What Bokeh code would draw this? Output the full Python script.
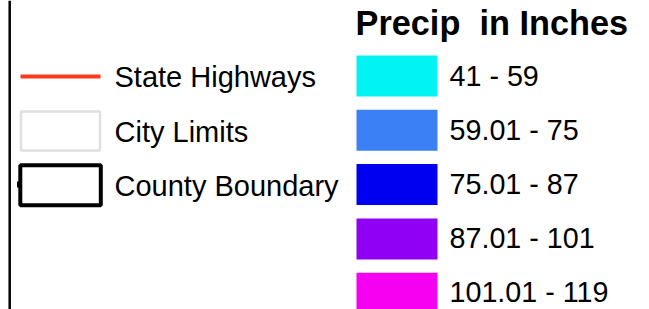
from bokeh.plotting import figure
from bokeh.models import Range1d
from bokeh.core.properties import value
from bokeh.embed import file_html
from bokeh.resources import INLINE

# ---- data ----
line_labels = ["State Highways", "City Limits", "County Boundary"]
line_colors = ["#FF3A1C", "#E0E0E0", "#000000"]
title = "Precip\u00a0 in Inches"
class_labels = ["41 - 59", "59.01 - 75", "75.01 - 87", "87.01 - 101", "101.01 - 119"]
class_colors = ["#00F5F2", "#3C80F5", "#0000F0", "#9000F5", "#F500F0"]

FONT = value("Liberation Sans")
TXT_SHIFT = 10.5  # compensates renderer baseline offset

p = figure(width=649, height=309, output_backend="svg", toolbar_location=None,
           x_range=Range1d(0, 649), y_range=Range1d(309, 0),
           min_border=0, outline_line_color=None)
p.axis.visible = False
p.grid.visible = False
p.background_fill_color = "white"
p.border_fill_color = "white"

# frame line at left
p.segment(x0=[9.2], y0=[0], x1=[9.2], y1=[309], line_color="black", line_width=2.5)

# left legend
row_step = 54.2
sym_y = [76 + i * row_step for i in range(3)]
# highway line
p.segment(x0=[20], y0=[sym_y[0]], x1=[100], y1=[sym_y[0]], line_color=line_colors[0], line_width=4)
# city limits box
p.quad(left=[20.5], right=[99.5], top=[111], bottom=[150], fill_color="white",
       line_color=line_colors[1], line_width=2.5)
# county boundary box
p.quad(left=[19.8], right=[100.3], top=[164.7], bottom=[204.8], fill_color="white",
       line_color=line_colors[2], line_width=4)
p.segment(x0=[17.5], y0=[181], x1=[17.5], y1=[187], line_color="black", line_width=2)

p.text(x=[114] * 3, y=[87.3 - TXT_SHIFT + i * row_step for i in range(3)], text=line_labels,
       text_font=FONT, text_font_size="29px", text_color="black",
       text_baseline="alphabetic", text_align="left")

# right legend
p.text(x=[355], y=[33.3 - TXT_SHIFT], text=[title], text_font=FONT, text_font_size="34.3px",
       text_font_style="bold", text_color="black", text_baseline="alphabetic")

n = len(class_labels)
tops = [55 + i * 54.3 for i in range(n)]
bots = [t + 41 for t in tops]
p.quad(left=[356] * n, right=[437] * n, top=tops, bottom=bots,
       fill_color=class_colors, line_color=None)
p.text(x=[449] * n, y=[86 - TXT_SHIFT + i * 54 for i in range(n)], text=class_labels,
       text_font=FONT, text_font_size="28.7px", text_color="black",
       text_baseline="alphabetic", text_align="left")

open("out.html", "w").write(file_html(p, INLINE))
